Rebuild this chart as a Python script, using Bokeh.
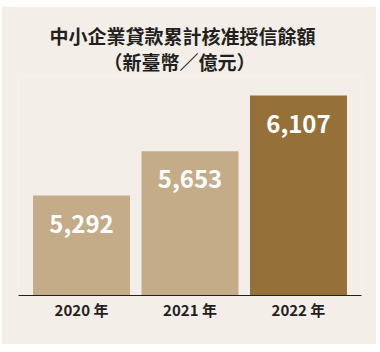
from bokeh.plotting import figure
from bokeh.models import ColumnDataSource, FactorRange, Range1d, Title, LabelSet, Spacer
from bokeh.layouts import column, row
from bokeh.core.properties import value
from bokeh.embed import file_html
from bokeh.resources import INLINE

years = ["2020 年", "2021 年", "2022 年"]
values = [5292, 5653, 6107]
labels = ["5,292", "5,653", "6,107"]
colors = ["#C3AC87", "#C3AC87", "#957139"]

title1 = "中小企業貸款累計核准授信餘額"
title2 = "（新臺幣／億元）"

BG = "#F3EFE8"
DARK = "#231F20"
FONT = "Noto Sans CJK TC"

base = 4477
src = ColumnDataSource(dict(x=years, top=values, lab=labels, color=colors))

p = figure(width=375, height=338, output_backend="svg", toolbar_location=None,
           x_range=FactorRange(factors=years, range_padding=0.054),
           y_range=Range1d(base, 6262),
           background_fill_color=BG, border_fill_color=BG,
           min_border_left=17, min_border_right=15, min_border_bottom=49, min_border_top=70)
p.outline_line_color = None
p.grid.visible = False
p.yaxis.visible = False

p.vbar(x="x", top="top", bottom=base, width=0.894, color="color", source=src, line_color=None)

p.add_layout(LabelSet(x="x", y="top", text="lab", source=src, y_offset=-28,
                      text_align="center", text_baseline="middle",
                      text_font=value(FONT), text_font_size="24px", text_font_style="bold",
                      text_color="white"))

ax = p.xaxis[0]
ax.axis_line_color = DARK
ax.axis_line_width = 1
ax.major_tick_line_color = None
ax.minor_tick_line_color = None
ax.major_tick_out = 0
ax.major_tick_in = 0
ax.major_label_standoff = 3
ax.major_label_text_font = FONT
ax.major_label_text_font_size = "15px"
ax.major_label_text_font_style = "bold"
ax.major_label_text_color = DARK

p.add_layout(Title(text=title2, align="left", offset=85, standoff=3, text_font=FONT,
                   text_font_size="19px", text_font_style="bold", text_color=DARK), "above")
p.add_layout(Title(text=title1, align="left", offset=31, standoff=-8, text_font=FONT,
                   text_font_size="19px", text_font_style="bold", text_color=DARK), "above")

layout = column(Spacer(height=6), row(Spacer(width=1), p))
open("out.html", "w").write(file_html(layout, INLINE))
